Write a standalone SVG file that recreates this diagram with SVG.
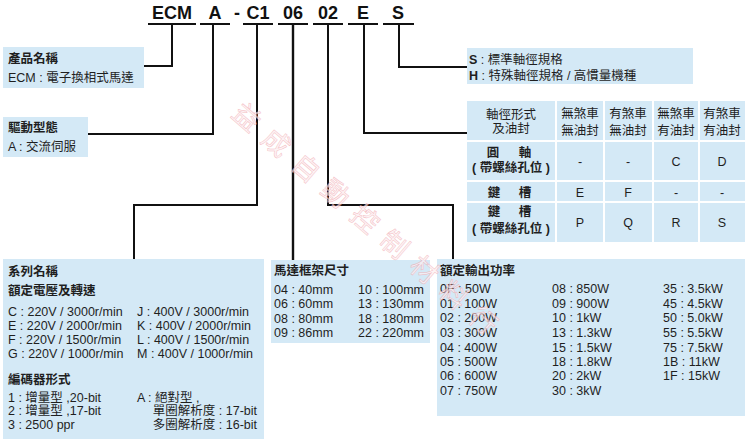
<svg xmlns="http://www.w3.org/2000/svg" width="745" height="444" viewBox="0 0 745 444">
<style>
text{font-family:"Liberation Sans","Noto Sans CJK TC",sans-serif;fill:#1f1f1f;font-size:12.5px}
.code{font-size:18px;font-weight:bold;fill:#111;text-anchor:middle}
.b{font-weight:bold}
.m{text-anchor:middle}
.box{fill:#d4e9f6}
.ln{fill:none;stroke:#111;stroke-width:2}
.wm{font-family:"Noto Sans CJK TC",sans-serif;font-size:27px;fill:#fdf0f2;stroke:#f0a3aa;stroke-width:0.5;letter-spacing:12px;opacity:0.7}
</style>
<rect width="745" height="444" fill="#fff"/>

<g id="code">
<text class="code" x="172" y="19">ECM</text>
<text class="code" x="215" y="19">A</text>
<text class="code" x="237" y="19">-</text>
<text class="code" x="258" y="19">C1</text>
<text class="code" x="293" y="19">06</text>
<text class="code" x="328" y="19">02</text>
<text class="code" x="363" y="19">E</text>
<text class="code" x="398" y="19">S</text>
<path class="ln" d="M148,24H196M200,24H230M243,24H273M278,24H308M313,24H343M348,24H378M383,24H414"/>
</g>

<g id="connectors">
<path class="ln" d="M172,24V66H144"/>
<path class="ln" d="M213,24V134H88"/>
<path class="ln" d="M257,24V205H134V259"/>
<path class="ln" d="M293,24V260" style="stroke-width:2.4"/>
<path class="ln" d="M328,24V205H453V259"/>
<path class="ln" d="M364,24V133H467"/>
<path class="ln" d="M399,24V67H467"/>
</g>

<g id="product">
<rect class="box" x="3" y="47" width="141" height="41"/>
<text class="b" x="8" y="63">產品名稱</text>
<text x="8" y="82">ECM : 電子換相式馬達</text>
</g>

<g id="drive">
<rect class="box" x="3" y="117" width="85" height="40"/>
<text class="b" x="8" y="132">驅動型態</text>
<text x="8" y="151">A : 交流伺服</text>
</g>

<g id="shaft-spec">
<rect class="box" x="467" y="48" width="226" height="36"/>
<text x="469" y="64"><tspan class="b">S</tspan> : 標準軸徑規格</text>
<text x="469" y="80"><tspan class="b">H</tspan> : 特殊軸徑規格 / 高慣量機種</text>
</g>

<g id="shaft-table">
<rect class="box" x="467" y="101" width="88" height="39"/>
<rect class="box" x="557" y="101" width="46" height="39"/>
<rect class="box" x="605" y="101" width="47" height="39"/>
<rect class="box" x="654" y="101" width="44" height="39"/>
<rect class="box" x="700" y="101" width="45" height="39"/>
<rect class="box" x="467" y="142" width="88" height="38"/>
<rect class="box" x="557" y="142" width="46" height="38"/>
<rect class="box" x="605" y="142" width="47" height="38"/>
<rect class="box" x="654" y="142" width="44" height="38"/>
<rect class="box" x="700" y="142" width="45" height="38"/>
<rect class="box" x="467" y="182" width="88" height="19"/>
<rect class="box" x="557" y="182" width="46" height="19"/>
<rect class="box" x="605" y="182" width="47" height="19"/>
<rect class="box" x="654" y="182" width="44" height="19"/>
<rect class="box" x="700" y="182" width="45" height="19"/>
<rect class="box" x="467" y="203" width="88" height="39"/>
<rect class="box" x="557" y="203" width="46" height="39"/>
<rect class="box" x="605" y="203" width="47" height="39"/>
<rect class="box" x="654" y="203" width="44" height="39"/>
<rect class="box" x="700" y="203" width="45" height="39"/>
<text class="m" x="511" y="119">軸徑形式</text>
<text class="m" x="511" y="133">及油封</text>
<text class="m" x="580" y="118">無煞車</text>
<text class="m" x="580" y="135">無油封</text>
<text class="m" x="628" y="118">有煞車</text>
<text class="m" x="628" y="135">無油封</text>
<text class="m" x="676" y="118">無煞車</text>
<text class="m" x="676" y="135">有油封</text>
<text class="m" x="722" y="118">有煞車</text>
<text class="m" x="722" y="135">有油封</text>
<text class="m b" x="493" y="157">圓</text>
<text class="m b" x="525" y="157">軸</text>
<text class="m b" x="511" y="172">( 帶螺絲孔位 )</text>
<text class="m" x="580" y="166">-</text>
<text class="m" x="628" y="166">-</text>
<text class="m" x="676" y="166">C</text>
<text class="m" x="722" y="166">D</text>
<text class="m b" x="494" y="197">鍵</text>
<text class="m b" x="525" y="197">槽</text>
<text class="m" x="580" y="197">E</text>
<text class="m" x="628" y="197">F</text>
<text class="m" x="676" y="197">-</text>
<text class="m" x="722" y="197">-</text>
<text class="m b" x="494" y="216">鍵</text>
<text class="m b" x="525" y="216">槽</text>
<text class="m b" x="511" y="233">( 帶螺絲孔位 )</text>
<text class="m" x="580" y="227">P</text>
<text class="m" x="628" y="227">Q</text>
<text class="m" x="676" y="227">R</text>
<text class="m" x="722" y="227">S</text>
</g>

<g id="series">
<rect class="box" x="3" y="259" width="261" height="180"/>
<text class="b" x="8" y="276">系列名稱</text>
<text class="b" x="8" y="295">額定電壓及轉速</text>
<text x="8" y="316">C : 220V / 3000r/min</text>
<text x="8" y="330">E : 220V / 2000r/min</text>
<text x="8" y="344">F : 220V / 1500r/min</text>
<text x="8" y="358">G : 220V / 1000r/min</text>
<text x="137" y="316">J : 400V / 3000r/min</text>
<text x="137" y="330">K : 400V / 2000r/min</text>
<text x="137" y="344">L : 400V / 1500r/min</text>
<text x="137" y="358">M : 400V / 1000r/min</text>
<text class="b" x="8" y="384">編碼器形式</text>
<text x="8" y="402">1 : 增量型 ,20-bit</text>
<text x="8" y="415">2 : 增量型 ,17-bit</text>
<text x="8" y="429">3 : 2500 ppr</text>
<text x="137" y="402">A : 絕對型 ,</text>
<text x="257" y="415" style="text-anchor:end">單圈解析度 : 17-bit</text>
<text x="257" y="429" style="text-anchor:end">多圈解析度 : 16-bit</text>
</g>

<g id="frame">
<rect class="box" x="271" y="260" width="159" height="83"/>
<text class="b" x="274" y="275">馬達框架尺寸</text>
<text x="274" y="294">04 : 40mm</text>
<text x="274" y="308">06 : 60mm</text>
<text x="274" y="323">08 : 80mm</text>
<text x="274" y="337">09 : 86mm</text>
<text x="358" y="294">10 : 100mm</text>
<text x="358" y="308">13 : 130mm</text>
<text x="358" y="323">18 : 180mm</text>
<text x="358" y="337">22 : 220mm</text>
</g>

<g id="power">
<rect class="box" x="437" y="259" width="308" height="157"/>
<text class="b" x="440" y="275">額定輸出功率</text>
<text x="440" y="293">0F : 50W</text>
<text x="440" y="308">01 : 100W</text>
<text x="440" y="322">02 : 200W</text>
<text x="440" y="337">03 : 300W</text>
<text x="440" y="352">04 : 400W</text>
<text x="440" y="366">05 : 500W</text>
<text x="440" y="380">06 : 600W</text>
<text x="440" y="395">07 : 750W</text>
<text x="552" y="293">08 : 850W</text>
<text x="552" y="308">09 : 900W</text>
<text x="552" y="322">10 : 1kW</text>
<text x="552" y="337">13 : 1.3kW</text>
<text x="552" y="352">15 : 1.5kW</text>
<text x="552" y="366">18 : 1.8kW</text>
<text x="552" y="380">20 : 2kW</text>
<text x="552" y="395">30 : 3kW</text>
<text x="663" y="293">35 : 3.5kW</text>
<text x="663" y="308">45 : 4.5kW</text>
<text x="663" y="322">50 : 5.0kW</text>
<text x="663" y="337">55 : 5.5kW</text>
<text x="663" y="352">75 : 7.5kW</text>
<text x="663" y="366">1B : 11kW</text>
<text x="663" y="380">1F : 15kW</text>
</g>

<g id="watermark">
<text class="wm" transform="translate(247,117) rotate(40.7)" x="-13.5" y="10">益成自動控制材料行</text>
</g>
</svg>
